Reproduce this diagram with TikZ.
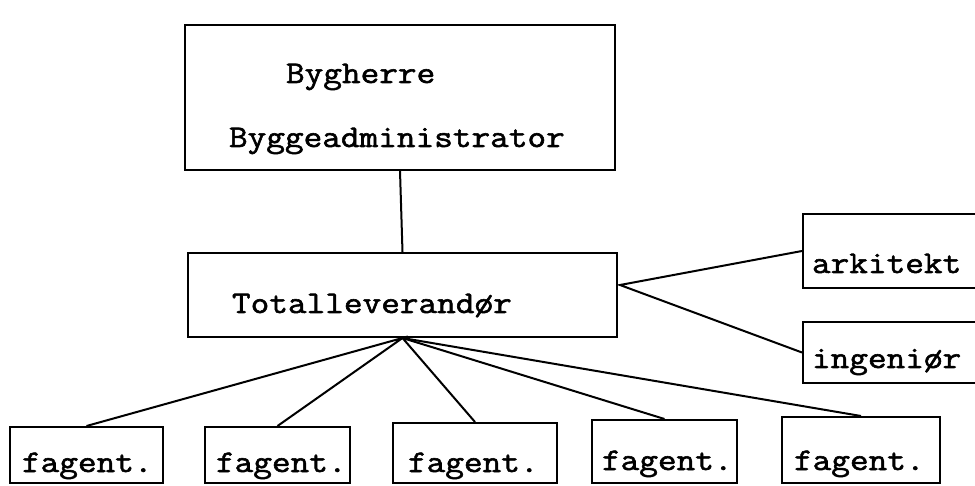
\documentclass[tikz,border=0pt]{standalone}
\usepackage{fontspec}
\newfontfamily\typew{Latin Modern Mono}[FakeBold=1.8,FakeStretch=1.15]
\begin{document}
\begin{tikzpicture}[x=1pt,y=-1pt,line width=2pt,
    box/.style={draw,rectangle,inner sep=0pt},
    txt/.style={anchor=base west,inner sep=0pt,font=\fontsize{31.5}{32}\typew}]
    \useasboundingbox (0,0) rectangle (975,486);

    % top
    \node[box,minimum width=430,minimum height=145] (top) at (400,97.5) {};
    \node[txt] (bygherre) at (285,83) {Bygherre};
    \node[txt] (byggeadm) at (228,147) {Byggeadministrator};

    % total contractor
    \node[box,minimum width=429,minimum height=84] (tot) at (402.5,295) {};
    \node[txt] (totlev) at (231,313) {Totalleverandør};
    \coordinate (fanr) at (620,285);

    % consultants
    \node[box,minimum width=190,minimum height=74,anchor=west] (ark) at (802,251) {};
    \node[txt] (arktxt) at (811,273) {arkitekt};
    \node[box,minimum width=190,minimum height=61,anchor=west] (ing) at (802,352.5) {};
    \node[txt] (ingtxt) at (811,368) {ingeniør};

    % trades
    \node[box,minimum width=153,minimum height=56] (fag1) at (86.5,455) {};
    \node[box,minimum width=145,minimum height=56] (fag2) at (277.5,455) {};
    \node[box,minimum width=164,minimum height=60] (fag3) at (475,453) {};
    \node[box,minimum width=145,minimum height=63] (fag4) at (664.5,451.5) {};
    \node[box,minimum width=158,minimum height=66] (fag5) at (861,450) {};
    \node[txt] at (21,472) {fagent.};
    \node[txt] at (215,472) {fagent.};
    \node[txt] at (407,472) {fagent.};
    \node[txt] at (601,470) {fagent.};
    \node[txt] at (793,470) {fagent.};

    \draw (top.south) -- (tot.north);
    \draw (ark.west) -- (fanr) -- (ing.west);
    \draw (fag1.north) -- (tot.south) -- (fag2.north);
    \draw (fag3.north) -- (tot.south) -- (fag4.north);
    \draw (tot.south) -- (fag5.north);
\end{tikzpicture}
\end{document}
